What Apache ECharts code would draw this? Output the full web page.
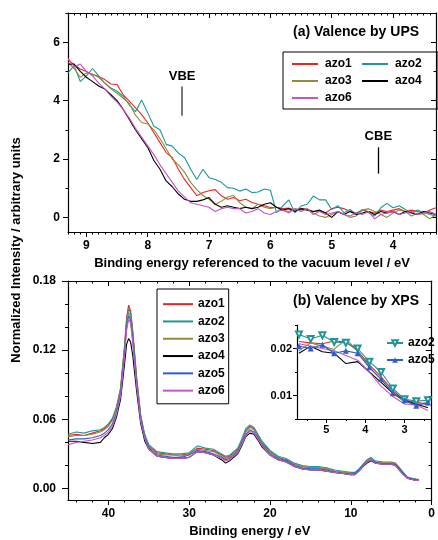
<!DOCTYPE html>
<html>
<head>
<meta charset="utf-8">
<script src="https://cdn.jsdelivr.net/npm/echarts@6/dist/echarts.min.js"></script>
<style>
  html, body { margin: 0; padding: 0; background: #fff; }
  #chart { width: 438px; height: 540px; }
</style>
</head>
<body>
<div id="chart"></div>
<script>
// ---- UPS panel (a) ----
var upsEnergy = [9.3,9.2,9.1,9.0,8.9,8.8,8.7,8.6,8.5,8.4,8.3,8.2,8.1,8.0,7.9,7.8,7.7,7.6,7.5,7.4,
                 7.3,7.2,7.1,7.0,6.9,6.8,6.7,6.6,6.5,6.4,6.3,6.2,6.1,6.0,5.9,5.8,5.7,5.6,5.5,5.4,
                 5.3,5.2,5.1,5.0,4.9,4.8,4.7,4.6,4.5,4.4,4.3,4.2,4.1,4.0,3.9,3.8,3.7,3.6,3.5,3.4,3.3];
var upsAzo1 = [5.40,5.23,5.08,5.00,4.89,4.83,4.72,4.57,4.55,4.20, 3.98,3.75,3.52,3.24,2.90,2.56,2.22,2.05,1.65,1.30,
               1.02,0.74,0.85,0.91,0.95,0.74,0.62,0.68,0.57,0.62, 0.51,0.45,0.40,0.34,0.35,0.30,0.32,0.25,0.30,0.28,
               0.20,0.22,0.15,0.30,0.35,0.30,0.20,0.15,0.25,0.20, 0.15,0.25,0.20,0.25,0.30,0.20,0.25,0.20,0.15,0.25,0.33];
var upsAzo2 = [4.95,5.20,4.65,4.85,5.10,4.85,4.60,4.43,4.32,4.15, 3.85,3.62,4.02,3.58,3.12,3.00,2.50,2.44,2.20,2.05,
               1.65,1.30,1.65,1.36,1.30,1.20,1.02,1.00,0.90,0.97, 0.85,0.87,0.97,0.93,0.16,0.39,0.60,0.16,0.39,0.45,
               0.73,0.60,0.60,0.27,0.40,0.16,0.27,0.10,0.27,0.16, 0.05,0.33,0.48,0.33,0.40,0.27,0.16,0.25,0.16,0.10,0.05];
var upsAzo3 = [5.30,5.10,4.80,4.95,4.90,4.80,4.60,4.40,4.25,4.08, 3.90,3.50,3.25,3.20,3.00,2.70,2.35,2.00,1.80,1.55,
               1.20,0.95,0.75,0.62,0.45,0.55,0.70,0.75,0.50,0.35, 0.30,0.45,0.35,0.30,0.35,0.25,0.20,0.30,0.25,0.30,
               0.15,0.05,0.00,0.10,0.20,0.10,0.00,0.05,0.25,0.30, 0.20,0.10,0.00,0.15,0.25,0.20,0.05,0.15,0.10,-0.05,0.10];
var upsAzo4 = [5.25,5.25,5.00,4.80,4.65,4.50,4.40,4.20,4.00,3.70, 3.35,3.00,2.70,2.40,1.95,1.65,1.25,1.05,0.80,0.62,
               0.55,0.55,0.60,0.68,0.45,0.35,0.40,0.35,0.30,0.35, 0.30,0.35,0.45,0.50,0.35,0.25,0.30,0.20,0.30,0.25,
               0.20,0.25,0.15,0.00,0.20,0.10,0.20,0.10,0.15,0.20, 0.10,0.20,0.15,0.20,0.10,0.20,0.15,0.10,0.20,0.15,0.10];
var upsAzo6 = [5.45,5.15,5.25,5.00,4.85,4.60,4.40,4.15,3.95,3.70, 3.40,3.05,2.75,2.45,2.15,1.80,1.50,1.20,0.90,0.70,
               0.50,0.45,0.40,0.35,0.20,0.30,0.35,0.30,0.30,0.15, 0.20,0.30,0.15,0.10,0.20,0.25,0.15,0.30,0.20,0.30,
               0.10,0.20,0.10,0.15,0.20,0.10,0.05,0.15,0.10,0.20, -0.05,0.10,0.15,0.20,0.10,0.15,0.20,0.10,0.15,0.20,0.10];

// ---- XPS panel (b) ----
var xpsEnergy = [45,44,43,42,41, 40.5,40,39.5,39,38.5,38,37.75,37.5,37.25,37,36.5,36,35.5,35,
                 34,33,32,31,30,29,28,27,26, 25.5,25,24,23.5,23,22.5,22,21.5,21,
                 20,19,18,17,16,15,14,13,12,11,10, 9.5,9,8.5,8,7.5,7,6,5,4.5,4,3.5,3,2.5,2,1.6];
var xpsAzo1 = [.046,.047,.046,.048,.050, .052,.055,.060,.070,.086,.124,.148,.159,.154,.138,.096,.063,.045,.037,
               .031,.030,.029,.029,.030,.035,.034,.033,.029, .027,.028,.034,.041,.050,.054,.052,.046,.040,
               .032,.027,.025,.021,.019,.018,.018,.017,.015,.014,.013, .013,.016,.020,.024,.026,.023,.022,.022,.021,.018,.013,.009,.008,.008,.007];
var xpsAzo2 = [.047,.049,.048,.050,.051, .053,.056,.061,.071,.087,.123,.146,.156,.152,.136,.095,.063,.047,.038,
               .032,.031,.030,.030,.031,.037,.035,.034,.030, .028,.029,.035,.043,.052,.055,.053,.047,.041,
               .033,.028,.026,.022,.020,.019,.019,.018,.016,.015,.014, .014,.017,.021,.025,.027,.024,.023,.023,.022,.018,.014,.010,.009,.008,.008];
var xpsAzo3 = [.045,.046,.046,.047,.049, .051,.054,.059,.069,.085,.121,.143,.153,.149,.133,.093,.062,.045,.036,
               .030,.029,.029,.028,.030,.034,.033,.032,.028, .026,.027,.033,.040,.049,.053,.051,.045,.039,
               .031,.027,.024,.021,.019,.018,.018,.017,.015,.014,.013, .013,.016,.020,.024,.026,.023,.022,.022,.022,.018,.013,.009,.008,.008,.007];
var xpsAzo4 = [.041,.041,.040,.039,.040, .044,.047,.052,.062,.077,.108,.125,.130,.127,.116,.084,.056,.041,.034,
               .028,.027,.026,.026,.027,.032,.031,.029,.025, .022,.024,.030,.037,.045,.048,.047,.042,.036,
               .029,.025,.023,.019,.017,.016,.016,.015,.014,.013,.012, .012,.015,.019,.022,.024,.022,.021,.021,.020,.016,.012,.009,.008,.007,.007];
var xpsAzo5 = [.042,.043,.043,.044,.046, .048,.051,.056,.066,.082,.118,.140,.150,.146,.130,.091,.060,.044,.035,
               .029,.028,.027,.027,.029,.033,.032,.030,.027, .025,.026,.032,.039,.047,.051,.049,.044,.038,
               .030,.026,.024,.020,.018,.017,.017,.016,.014,.013,.012, .013,.016,.020,.023,.025,.023,.021,.021,.021,.017,.013,.009,.008,.008,.007];
var xpsAzo6 = [.038,.040,.041,.042,.044, .046,.049,.054,.064,.080,.115,.137,.147,.143,.127,.089,.058,.043,.034,
               .028,.027,.026,.026,.027,.032,.031,.029,.026, .024,.025,.031,.038,.046,.050,.048,.043,.037,
               .029,.025,.023,.019,.017,.016,.016,.015,.014,.013,.012, .012,.015,.019,.023,.025,.022,.021,.021,.020,.016,.012,.009,.008,.007,.007];

// ---- inset of (b) ----
var insetEnergy = [5.7,5.4,5.1,4.8,4.5,4.2,3.9,3.6,3.3,3.0,2.7,2.4];
var insetAzo1 = [0.0215,0.0212,0.0210,0.0216,0.0214,0.0195,0.0165,0.0140,0.0110,0.0090,0.0086,0.0080];
var insetAzo2 = [0.0230,0.0220,0.0228,0.0214,0.0212,0.0200,0.0172,0.0150,0.0115,0.0092,0.0088,0.0090];
var insetAzo3 = [0.0195,0.0212,0.0205,0.0198,0.0220,0.0195,0.0160,0.0135,0.0105,0.0086,0.0082,0.0085];
var insetAzo4 = [0.0190,0.0205,0.0193,0.0190,0.0168,0.0172,0.0150,0.0128,0.0105,0.0090,0.0082,0.0074];
var insetAzo5 = [0.0205,0.0200,0.0208,0.0190,0.0195,0.0190,0.0160,0.0135,0.0105,0.0090,0.0078,0.0085];
var insetAzo6 = [0.0210,0.0205,0.0200,0.0195,0.0185,0.0175,0.0150,0.0120,0.0098,0.0082,0.0080,0.0068];

// tick labels
var upsXTicks = [4, 5, 6, 7, 8, 9];
var upsYTicks = [0, 2, 4, 6];
var xpsXTicks = [0, 10, 20, 30, 40];
var xpsYTicks = [0, 0.06, 0.12, 0.18];
var insetXTicks = [3, 4, 5];
var insetYTicks = [0.01, 0.02];

// VBE / CBE markers: [energy, from, to]
var vbeMark = [7.44, 3.48, 4.48];
var cbeMark = [4.24, 1.5, 2.4];

var colors = {
  azo1: '#f02222', azo2: '#1f9799', azo3: '#8f8c3a',
  azo4: '#000000', azo5: '#2d5fd2', azo6: '#c455c4'
};
var FONT = 'Liberation Sans, Arial, sans-serif';

function steps(a, b, d) {
  var out = [];
  for (var v = a; v <= b + d / 1000; v += d) out.push(Math.round(v * 10000) / 10000);
  return out;
}
function pairs(xs, ys) {
  return xs.map(function (x, i) { return [x, ys[i]]; });
}

// main axis (labels, line), minor ticks, and mirrored top/right edge
function buildAxes(o) {
  var first = o.dim === 'x' ? 'bottom' : 'left';
  var second = o.dim === 'x' ? 'top' : 'right';
  var base = {
    type: 'value', gridIndex: o.grid, min: o.min, max: o.max,
    inverse: !!o.inverse, splitLine: { show: false }
  };
  var tickStyle = { color: '#000', width: 1 };
  var list = [];
  list.push(Object.assign({}, base, {
    position: first,
    name: o.name || '', nameLocation: 'middle', nameGap: o.nameGap || 0,
    nameTextStyle: { fontFamily: FONT, fontWeight: 'bold', fontSize: 13, color: '#000' },
    axisLine: { show: true, onZero: false, lineStyle: { color: '#000', width: 1.2 } },
    axisTick: { show: true, inside: false, length: o.tickLen, customValues: o.major, lineStyle: tickStyle },
    axisLabel: {
      show: true, customValues: o.major, margin: o.margin, formatter: o.fmt,
      color: '#000', fontFamily: FONT, fontWeight: 'bold', fontSize: o.fontSize
    }
  }));
  list.push(Object.assign({}, base, {
    position: first,
    axisLine: { show: false, onZero: false },
    axisTick: { show: true, inside: false, length: o.tickLen / 2, customValues: o.minor, lineStyle: tickStyle },
    axisLabel: { show: false }
  }));
  if (o.mirror) {
    list.push(Object.assign({}, base, {
      position: second,
      axisLine: { show: true, onZero: false, lineStyle: { color: '#000', width: 1.2 } },
      axisTick: { show: true, inside: true, length: o.tickLen, customValues: o.major, lineStyle: tickStyle },
      axisLabel: { show: false }
    }));
    list.push(Object.assign({}, base, {
      position: second,
      axisLine: { show: false, onZero: false },
      axisTick: { show: true, inside: true, length: o.tickLen / 2, customValues: o.minor, lineStyle: tickStyle },
      axisLabel: { show: false }
    }));
  }
  return list;
}

var xAxes = [].concat(
  buildAxes({ dim: 'x', grid: 0, min: 3.3, max: 9.3, inverse: true, major: upsXTicks,
    minor: steps(3.3, 9.3, 0.1), tickLen: 5, margin: 8, fontSize: 12, mirror: true,
    name: 'Binding energy referenced to the vacuum level / eV', nameGap: 25 }),
  buildAxes({ dim: 'x', grid: 1, min: 0, max: 45, inverse: true, major: xpsXTicks,
    minor: steps(0, 44, 2), tickLen: 5, margin: 8, fontSize: 12, mirror: true,
    name: 'Binding energy / eV', nameGap: 25 }),
  buildAxes({ dim: 'x', grid: 2, min: 2.4, max: 5.75, inverse: true, major: insetXTicks,
    minor: [2.5, 3.5, 4.5, 5.5], tickLen: 4, margin: 5, fontSize: 11, mirror: false })
);
var yAxes = [].concat(
  buildAxes({ dim: 'y', grid: 0, min: -0.5, max: 7, major: upsYTicks,
    minor: [1, 3, 5, 7], tickLen: 5, margin: 8, fontSize: 12, mirror: true }),
  buildAxes({ dim: 'y', grid: 1, min: -0.01, max: 0.18, major: xpsYTicks,
    minor: steps(0, 0.18, 0.02), tickLen: 6, margin: 12, fontSize: 12, mirror: true,
    fmt: function (v) { return v.toFixed(2); } }),
  buildAxes({ dim: 'y', grid: 2, min: 0.005, max: 0.025, major: insetYTicks,
    minor: [0.005, 0.015, 0.025], tickLen: 4, margin: 5, fontSize: 11, mirror: false,
    fmt: function (v) { return v.toFixed(2); } })
);

// first (main) axis index of each grid
var UPS_X = 0, UPS_Y = 0, XPS_X = 4, XPS_Y = 4, INSET_X = 8, INSET_Y = 8;

var upsSets = [['azo1', upsAzo1], ['azo2', upsAzo2], ['azo3', upsAzo3], ['azo4', upsAzo4], ['azo6', upsAzo6]];
var xpsSets = [['azo1', xpsAzo1], ['azo2', xpsAzo2], ['azo3', xpsAzo3], ['azo4', xpsAzo4], ['azo5', xpsAzo5], ['azo6', xpsAzo6]];
var insetSets = [['azo1', insetAzo1], ['azo3', insetAzo3], ['azo4', insetAzo4], ['azo6', insetAzo6], ['azo2', insetAzo2], ['azo5', insetAzo5]];

var series = [];
upsSets.forEach(function (s) {
  series.push({
    name: s[0], type: 'line', xAxisIndex: UPS_X, yAxisIndex: UPS_Y,
    data: pairs(upsEnergy, s[1]), symbol: 'none',
    color: colors[s[0]], lineStyle: { width: 1.1, color: colors[s[0]] }
  });
});
// VBE / CBE markers
series.push({
  type: 'line', xAxisIndex: UPS_X, yAxisIndex: UPS_Y, data: [], silent: true,
  markLine: {
    symbol: ['none', 'none'], silent: true, animation: false,
    label: { show: true, position: 'end', distance: 4, color: '#000', fontFamily: FONT, fontWeight: 'bold', fontSize: 13 },
    data: [
      [{ coord: [vbeMark[0], vbeMark[1]], lineStyle: { color: '#7a7a7a', width: 2, type: 'solid' }, label: { formatter: 'VBE' } },
       { coord: [vbeMark[0], vbeMark[2]] }],
      [{ coord: [cbeMark[0], cbeMark[1]], lineStyle: { color: '#000', width: 1.3, type: 'solid' }, label: { formatter: 'CBE' } },
       { coord: [cbeMark[0], cbeMark[2]] }]
    ]
  }
});
xpsSets.forEach(function (s) {
  series.push({
    name: s[0], type: 'line', xAxisIndex: XPS_X, yAxisIndex: XPS_Y,
    data: pairs(xpsEnergy, s[1]), symbol: 'none',
    color: colors[s[0]], lineStyle: { width: 1.1, color: colors[s[0]] }
  });
});
insetSets.forEach(function (s) {
  var marked = s[0] === 'azo2' || s[0] === 'azo5';
  series.push({
    name: s[0] + ' (inset)', type: 'line', xAxisIndex: INSET_X, yAxisIndex: INSET_Y,
    data: pairs(insetEnergy, s[1]),
    symbol: s[0] === 'azo2' ? 'emptyTriangle' : (s[0] === 'azo5' ? 'triangle' : 'none'),
    symbolRotate: s[0] === 'azo2' ? 180 : 0,
    symbolSize: 6, showSymbol: marked,
    color: colors[s[0]], lineStyle: { width: 1.1, color: colors[s[0]] },
    itemStyle: { borderWidth: 1 }
  });
});

var legendText = { fontFamily: FONT, fontWeight: 'bold', fontSize: 12, color: '#000' };

var option = {
  backgroundColor: '#fff',
  animation: false,
  textStyle: { fontFamily: FONT },
  title: [
    { text: '(a) Valence by UPS', left: 293, top: 25, padding: 0,
      textStyle: { fontFamily: FONT, fontWeight: 'bold', fontSize: 14, color: '#000' } },
    { text: '(b) Valence by XPS', left: 293, top: 294, padding: 0,
      textStyle: { fontFamily: FONT, fontWeight: 'bold', fontSize: 14, color: '#000' } }
  ],
  grid: [
    { left: 68, top: 13, right: 2, height: 219 },
    { left: 68, top: 281, right: 2, height: 219 },
    { left: 297, top: 325, width: 131, height: 94 }
  ],
  legend: [
    { data: ['azo1', 'azo2', 'azo3', 'azo4', 'azo6'], orient: 'horizontal', left: 283, top: 52, width: 140,
      icon: 'rect', itemWidth: 26, itemHeight: 2, itemGap: 3, selectedMode: false,
      borderColor: '#000', borderWidth: 1, padding: [5, 9, 4, 9],
      textStyle: Object.assign({ width: 34, lineHeight: 14, padding: [0, 0, 0, 2] }, legendText) },
    { data: ['azo1', 'azo2', 'azo3', 'azo4', 'azo5', 'azo6'], orient: 'vertical', left: 157, top: 289,
      icon: 'rect', itemWidth: 30, itemHeight: 2, itemGap: 3, selectedMode: false,
      borderColor: '#000', borderWidth: 1, padding: [8, 4, 6, 6],
      textStyle: Object.assign({ lineHeight: 14.3 }, legendText) },
    { data: ['azo2 (inset)', 'azo5 (inset)'], orient: 'vertical', left: 381, top: 331,
      itemWidth: 16, itemHeight: 7, itemGap: 3, selectedMode: false,
      formatter: function (n) { return n.split(' ')[0]; },
      textStyle: Object.assign({ lineHeight: 14 }, legendText) }
  ],
  graphic: [
    { type: 'text', x: 16, y: 250, rotation: Math.PI / 2,
      style: { text: 'Normalized Intensity / arbitrary units', fill: '#000',
        font: 'bold 13px ' + FONT, textAlign: 'center', textVerticalAlign: 'middle' } }
  ],
  xAxis: xAxes,
  yAxis: yAxes,
  series: series
};

var chart = echarts.init(document.getElementById('chart'), null, { renderer: 'canvas' });
chart.setOption(option);
</script>
</body>
</html>
